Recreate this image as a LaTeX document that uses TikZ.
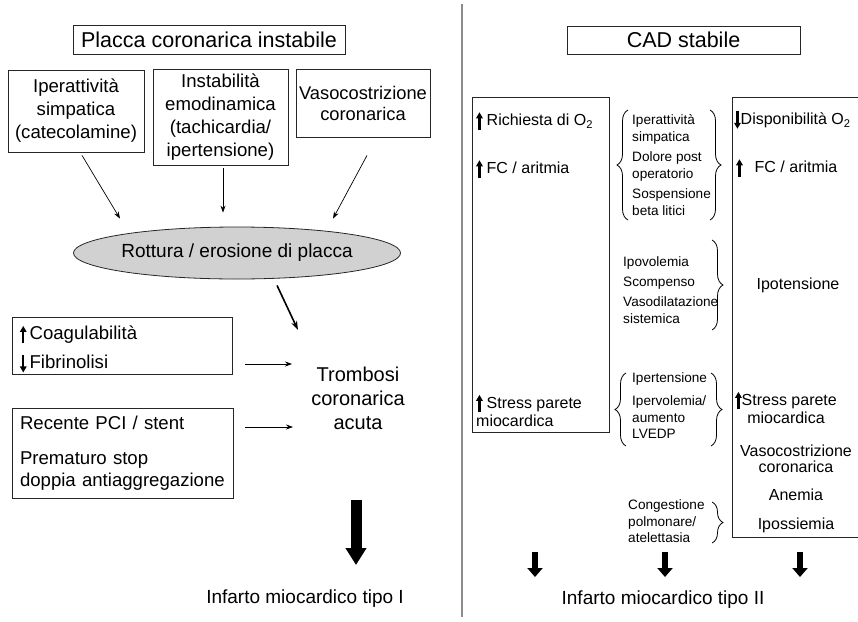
\documentclass[tikz,border=0pt]{standalone}
\usepackage{fontspec}
\setmainfont{Liberation Sans}
\usetikzlibrary{arrows.meta,positioning,shapes.geometric,decorations.pathreplacing}
\newcommand{\freccsu}{\tikz[x=1pt,y=1pt,baseline=0pt]\draw[line width=2.2pt,-{Triangle[length=6pt,width=6.5pt]}](0,-4)--(0,13.5);}
\newcommand{\freccgiu}{\tikz[x=1pt,y=1pt,baseline=0pt]\draw[line width=2.2pt,-{Triangle[length=6pt,width=6.5pt]}](0,13.5)--(0,-4);}

\begin{document}
\begin{tikzpicture}[x=1pt,y=-1pt,
  box/.style={draw=black!85,line width=0.8pt,inner sep=0pt,align=center,
    font=\fontsize{18.6}{23}\selectfont},
  titbox/.style={box,font=\fontsize{21.5}{24}\selectfont},
  lbox/.style={box,align=left,inner xsep=8pt},
  ovale/.style={ellipse,draw=black!85,fill=black!18,line width=0.8pt,inner sep=0pt,
    minimum width=260pt,minimum height=52pt,font=\fontsize{19}{23}\selectfont},
  txt/.style={inner sep=0pt,align=center,font=\fontsize{19}{24}\selectfont},
  rtxt/.style={inner sep=0pt,font=\fontsize{16}{16.5}\selectfont},
  mtxt/.style={inner sep=0pt,align=left,font=\fontsize{13.6}{16.5}\selectfont},
  arr/.style={-{Stealth[length=7pt,width=5pt]},line width=0.7pt},
  thickarr/.style={-{Stealth[length=9pt,width=6pt]},line width=1.6pt},
  bigL/.style={-{Triangle[length=17pt,width=20pt]},line width=11pt},
  bigR/.style={-{Triangle[length=9pt,width=15pt]},line width=6pt},
  graffa/.style={decorate,decoration={brace,amplitude=11pt},line width=0.8pt}]
  \useasboundingbox (0,0) rectangle (858,621);
  % placca instabile
  \node[titbox,minimum width=272pt,minimum height=29pt](titL) at (209,40)
    {Placca coronarica instabile};
  \node[box,minimum width=136pt,minimum height=82pt](iper) at (76,111)
    {Iperattività\\simpatica\\(catecolamine)};
  \node[box,minimum width=135pt,minimum height=96pt](emod) at (220.5,117)
    {Instabilità\\emodinamica\\(tachicardia/\\ipertensione)};
  \node[box,minimum width=134pt,minimum height=68pt,
    font=\fontsize{18.3}{21}\selectfont](vaso) at (363,103)
    {Vasocostrizione\\coronarica};
  \node[ovale](rott) at (237,253) {Rottura / erosione di placca};
  \node[txt,font=\fontsize{20}{24}\selectfont](tromb) at (358,398)
    {Trombosi\\coronarica\\acuta};
  \node[lbox,text width=204pt,minimum height=57pt,
    font=\fontsize{18.6}{29}\selectfont](coag) at (122,345.5)
    {\rule{0pt}{22pt}\freccsu\,Coagulabilità\\\freccgiu\,Fibrinolisi};
  \node[lbox,text width=205pt,minimum height=90pt,
    font=\fontsize{18.6}{21.5}\selectfont](pci) at (122.5,453)
    {Recente PCI / stent\\[13.5pt]Prematuro stop\\\mbox{doppia antiaggregazione}};
  \node[txt](inf1) at (305,599) {Infarto miocardico tipo I};
  \draw[arr]([shift={(6,3)}]iper.south)--([shift={(-117,-8)}]rott.north);
  \draw[arr]([shift={(2.5,3)}]emod.south)--([shift={(-14,-14)}]rott.north);
  \draw[arr]([shift={(4,18)}]vaso.south)--([shift={(96,-8)}]rott.north);
  \draw[thickarr]([shift={(40,6)}]rott.south)--([shift={(-60,-68)}]tromb.center);
  \draw[arr]([shift={(13,18.5)}]coag.east)--([shift={(-66,-34)}]tromb.center);
  \draw[arr]([shift={(12,-26)}]pci.east)--([shift={(-65,29)}]tromb.center);
  \draw[bigL]([shift={(-2,102)}]tromb.center)--([shift={(51,-34)}]inf1.center);
  % divisorio
  \draw[black!45,line width=1.3pt](462,4)--(462,617);
  % CAD stabile
  \node[titbox,minimum width=233pt,minimum height=28pt](titR) at (683.5,40) {CAD stabile};
  \node[box,minimum width=137pt,minimum height=335pt](rich) at (540.5,264.5) {};
  \node[box,minimum width=140pt,minimum height=440pt](dispo) at (802,317) {};
  \node[rtxt,anchor=west](ric) at (476,121) {\freccsu\hspace{4pt}Richiesta di O\textsubscript{2}};
  \node[rtxt,anchor=west](fcA) at (476,169) {\freccsu\hspace{4pt}FC / aritmia};
  \node[rtxt,anchor=west,align=left](spA) at (476,410)
    {\freccsu\hspace{4pt}Stress parete\\miocardica};
  \node[rtxt,anchor=west](disp) at (734,120) {\freccgiu Disponibilità O\textsubscript{2}};
  \node[rtxt,anchor=west](fcB) at (736,168) {\freccsu\hspace{12pt}FC / aritmia};
  \node[rtxt](ipot) at (798,285) {Ipotensione};
  \node[rtxt,align=center](spB) at (786,407) {\freccsu Stress parete\\miocardica};
  \node[rtxt,align=center](vasoB) at (796,459) {Vasocostrizione\\coronarica};
  \node[rtxt](anem) at (796,495) {Anemia};
  \node[rtxt](ipos) at (796,525) {Ipossiemia};
  % cause intermedie
  \node[mtxt,anchor=west](gA) at (632,165)
    {Iperattività\\simpatica\\[4pt]Dolore post\\operatorio\\[4pt]Sospensione\\beta litici};
  \node[mtxt,anchor=west](gB) at (623,290)
    {Ipovolemia\\[3.5pt]Scompenso\\[3.5pt]Vasodilatazione\\sistemica};
  \node[mtxt,anchor=west](gC) at (632,406)
    {Ipertensione\\[6.5pt]Ipervolemia/\\aumento\\LVEDP};
  \node[mtxt,anchor=west](gD) at (628,521.5)
    {Congestione\\polmonare/\\atelettasia};
  \draw[graffa](628,220)--(628,110);
  \draw[graffa](710,110)--(710,220);
  \draw[graffa](712,240)--(712,330);
  \draw[graffa](626,446)--(626,373);
  \draw[graffa](711,373)--(711,446);
  \draw[graffa](712,502)--(712,543);
  \node[txt](inf2) at (663,600) {Infarto miocardico tipo II};
  \draw[bigR]([shift={(-5.5,120)}]rich.south)--([shift={(-128,-23)}]inf2.center);
  \draw[bigR]([shift={(2,-48)}]inf2.center)--([shift={(2,-23)}]inf2.center);
  \draw[bigR]([shift={(-2,15)}]dispo.south)--([shift={(137,-23)}]inf2.center);
\end{tikzpicture}
\end{document}
